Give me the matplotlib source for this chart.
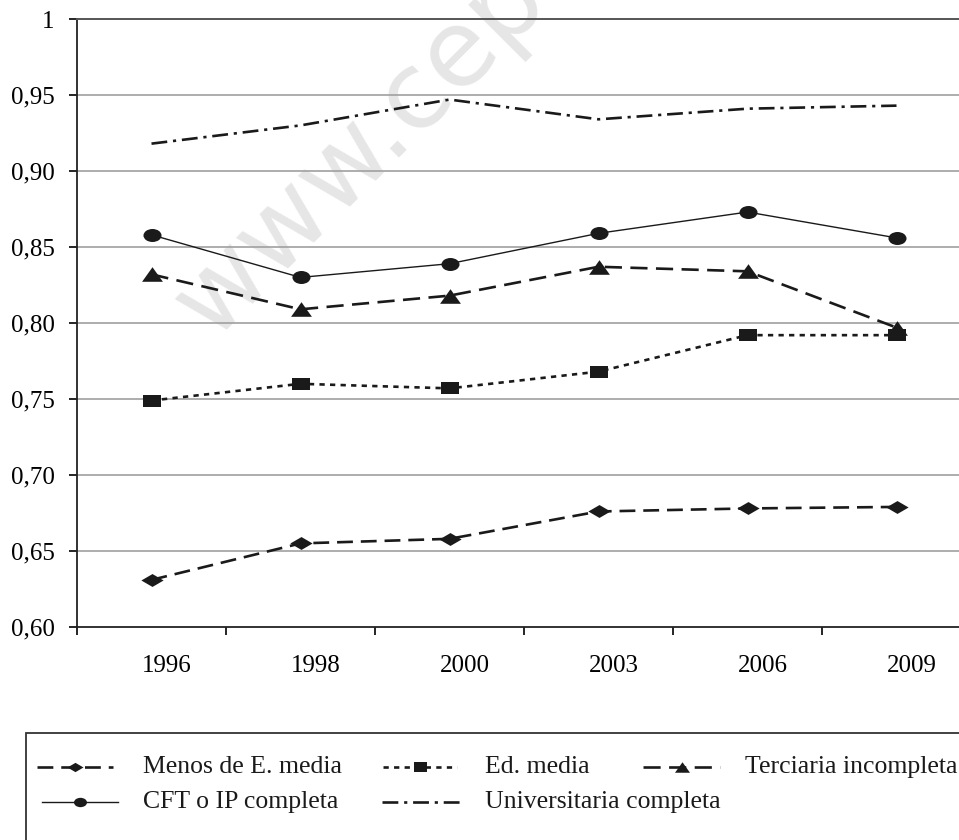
import matplotlib
matplotlib.use("Agg")
import matplotlib.pyplot as plt
import numpy as np
from matplotlib.lines import Line2D
from matplotlib.markers import MarkerStyle
from matplotlib.transforms import Affine2D, ScaledTranslation

plt.rcParams['font.family'] = ['Liberation Serif', 'DejaVu Serif']

# ---------------- datos ----------------
years = ['1996', '1998', '2000', '2003', '2006', '2009']
menos_media = [0.631, 0.655, 0.658, 0.676, 0.678, 0.679]
ed_media = [0.749, 0.760, 0.757, 0.768, 0.792, 0.792]
terciaria_inc = [0.832, 0.809, 0.818, 0.837, 0.834, 0.797]
cft_ip = [0.858, 0.830, 0.839, 0.859, 0.873, 0.856]
universitaria = [0.918, 0.930, 0.947, 0.934, 0.941, 0.943]

ytick_vals = [0.60, 0.65, 0.70, 0.75, 0.80, 0.85, 0.90, 0.95, 1.0]
ytick_labels = ['0,60', '0,65', '0,70', '0,75', '0,80', '0,85', '0,90', '0,95', '1']

labels = ['Menos de E. media', 'Ed. media', 'Terciaria incompleta',
          'CFT o IP completa', 'Universitaria completa']

# ---------------- marcadores (achatados como en el original) ----------------
diamond = MarkerStyle([(-1, 0), (0, 0.58), (1, 0), (0, -0.58), (-1, 0)])
square = MarkerStyle('s', transform=Affine2D().scale(1, 0.7))
triangle = MarkerStyle([(-1, -0.7), (1, -0.7), (0, 0.7), (-1, -0.7)])
circle = MarkerStyle('o', transform=Affine2D().scale(1, 0.72))

W, H = 959, 840
fig = plt.figure(figsize=(W / 100, H / 100), dpi=100)

ax = fig.add_axes([77 / W, (H - 627) / H, 894 / W, 608 / H])
ax.patch.set_alpha(0)

x = np.arange(len(years))
lw = 1.9
styles = [
    dict(data=menos_media, marker=diamond, ms=16, ls=(0, (6, 3)), lw=lw),
    dict(data=ed_media, marker=square, ms=13, ls=(0, (2, 2)), lw=lw),
    dict(data=terciaria_inc, marker=triangle, ms=15, ls=(0, (6.5, 3.2)), lw=lw),
    dict(data=cft_ip, marker=circle, ms=13, ls='-', lw=1.0),
    dict(data=universitaria, marker=None, ms=0, ls=(0, (6, 2.2, 1.2, 2.2)), lw=lw),
]
for s in styles:
    ax.plot(x, s['data'], color='#1a1a1a', linestyle=s['ls'], linewidth=s['lw'],
            marker=s['marker'], markersize=s['ms'], zorder=3,
            markeredgewidth=0, markerfacecolor='#1a1a1a')

ax.set_xlim(-0.5, len(years) - 0.5)
ax.set_ylim(0.60, 1.0)

# grid horizontal
for v in ytick_vals[1:-1]:
    ax.axhline(v, color='#a0a0a0', linewidth=1.2, zorder=1)

ax.set_yticks(ytick_vals)
ax.set_yticklabels(ytick_labels)
ax.tick_params(axis='y', direction='out', length=6, width=1.2, pad=10, labelsize=18)

# ticks x: marcas en los limites, etiquetas en el centro
ax.set_xticks(np.arange(len(years) + 1) - 0.5)
ax.set_xticklabels([])
ax.set_xticks(x, minor=True)
ax.set_xticklabels(years, minor=True)
ax.tick_params(axis='x', which='major', direction='out', length=6, width=1.2)
ax.tick_params(axis='x', which='minor', length=0, pad=20, labelsize=18)
off = ScaledTranslation(15 / 100, 0, fig.dpi_scale_trans)
for lab in ax.xaxis.get_minorticklabels():
    lab.set_transform(lab.get_transform() + off)

for sp in ['left', 'bottom']:
    ax.spines[sp].set_linewidth(1.3)
    ax.spines[sp].set_color('#222222')
ax.spines['top'].set_linewidth(1.4)
ax.spines['top'].set_color('#555555')
ax.spines['right'].set_visible(False)

# marca de agua
ax.text(212 / W, 1 - 340 / H, 'www.cepchile.cl', transform=fig.transFigure,
        rotation=45, rotation_mode='anchor', ha='left', va='baseline',
        fontsize=77, family='DejaVu Sans', color='#e6e6e6', zorder=0)

# ---------------- leyenda manual ----------------
fig.patches.append(plt.Rectangle((26 / W, -0.1), 1.0, (H - 733) / H + 0.1,
                                 transform=fig.transFigure, fill=False,
                                 edgecolor='#333333', linewidth=1.3))

rows = [767, 802]
entries = [  # (indice de serie, x0, x1, xtexto, fila)
    (0, 37, 113, 143, 0),
    (1, 383, 457, 485, 0),
    (2, 643, 720, 745, 0),
    (3, 42, 118, 143, 1),
    (4, 382, 460, 485, 1),
]
for i, x0, x1, xt, r in entries:
    s = styles[i]
    yy = 1 - rows[r] / H
    ln = Line2D([x0 / W, (x0 + x1) / 2 / W, x1 / W], [yy, yy, yy],
                transform=fig.transFigure, color='#1a1a1a', linestyle=s['ls'],
                linewidth=s['lw'], marker=s['marker'], markersize=s['ms'] * 0.72,
                markevery=[1], markeredgewidth=0, markerfacecolor='#1a1a1a')
    fig.lines.append(ln)
    fig.text(xt / W, yy, labels[i], fontsize=18.5, va='center', ha='left',
             color='#1a1a1a')

fig.savefig('out.png', dpi=100)
